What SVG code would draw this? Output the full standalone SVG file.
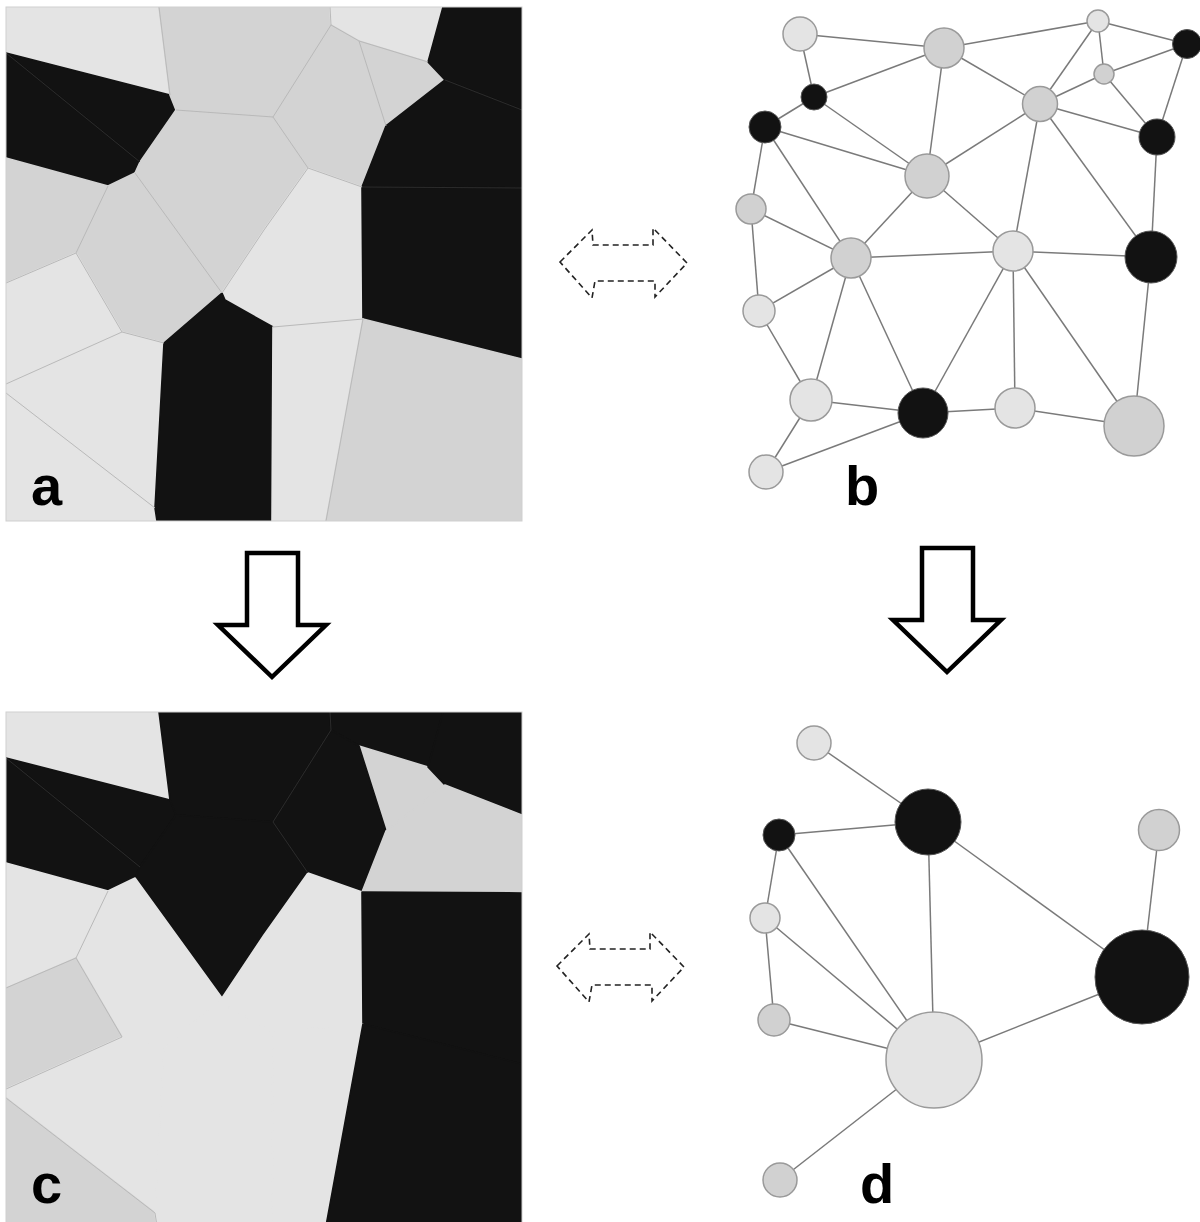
<svg xmlns="http://www.w3.org/2000/svg" xmlns:xlink="http://www.w3.org/1999/xlink" width="1200" height="1222" viewBox="0 0 1200 1222">
<style>
.L{fill:#e4e4e4;stroke:#e4e4e4;stroke-width:1.6;stroke-linejoin:round}
.M{fill:#d3d3d3;stroke:#d3d3d3;stroke-width:1.6;stroke-linejoin:round}
.B{fill:#121212;stroke:#121212;stroke-width:1.6;stroke-linejoin:round}
.gl{fill:none;stroke:#b9b9b9;stroke-width:1}
.dl{fill:none;stroke:#2c2c2c;stroke-width:1}
.frame{fill:none;stroke:#cfcfcf;stroke-width:1}
.edge{stroke:#7a7a7a;stroke-width:1.5}
.nL{fill:#e4e4e4;stroke:#9a9a9a;stroke-width:1.5}
.nM{fill:#d1d1d1;stroke:#9a9a9a;stroke-width:1.5}
.nB{fill:#121212;stroke:#555;stroke-width:1}
.lbl{font-family:"Liberation Sans",Arial,sans-serif;font-weight:bold;font-size:56px;fill:#000}
.down{fill:#fff;stroke:#000;stroke-width:4.5;stroke-linejoin:miter}
.dash{fill:none;stroke:#222;stroke-width:1.6;stroke-dasharray:6 4}
</style>
<defs>
<polygon id="c1" points="6,7 159,7 170,95 6,53"/>
<polygon id="c2" points="6,53 170,95 176,110 140,162"/>
<polygon id="c3" points="6,53 140,162 135,173 108,186 6,158"/>
<polygon id="c4" points="159,7 330,7 331,25 273,117 176,110 170,95"/>
<polygon id="c5" points="330,7 443,7 428,62 359,41 331,25"/>
<polygon id="c6" points="359,41 428,62 445,80 386,126"/>
<polygon id="c7" points="443,7 522,7 522,110 445,80 428,62"/>
<polygon id="c8" points="331,25 359,41 386,126 362,187 308,168 273,117"/>
<polygon id="c9" points="445,80 522,110 522,188 362,187 386,126"/>
<polygon id="c10" points="176,110 273,117 308,168 264,230 222,293 135,173 140,162"/>
<polygon id="c11" points="6,158 108,186 76,253 6,283"/>
<polygon id="c12" points="108,186 135,173 222,293 164,343 122,332 76,253"/>
<polygon id="c13" points="308,168 362,187 363,319 273,327 225,300 222,293 264,230"/>
<polygon id="c14" points="362,187 522,188 522,359 363,319"/>
<polygon id="c15" points="6,283 76,253 122,332 6,384"/>
<polygon id="c16" points="6,384 122,332 164,343 155,508 6,393"/>
<polygon id="c17" points="6,393 155,508 157,521 6,521"/>
<polygon id="c18" points="222,293 225,300 273,327 272,521 157,521 155,508 164,343"/>
<polygon id="c19" points="273,327 363,319 326,521 272,521"/>
<polygon id="c20" points="363,319 522,359 522,521 326,521"/>
<path id="dblarrow" d="M560,262 L592,230 L593,245 H653 L653,228 L687,263 L655,297 L655,281 H595 L592,298 Z"/>
<path id="downarrow" d="M247,553 H298 V625 H326 L272,677 L218,625 H247 Z"/>
<clipPath id="panelclip"><rect x="6" y="7" width="516" height="514"/></clipPath>
</defs>

<g id="panel-a">
<g clip-path="url(#panelclip)">
<use xlink:href="#c1" class="L"/><use xlink:href="#c2" class="B"/><use xlink:href="#c3" class="B"/>
<use xlink:href="#c4" class="M"/><use xlink:href="#c5" class="L"/><use xlink:href="#c6" class="M"/>
<use xlink:href="#c7" class="B"/><use xlink:href="#c8" class="M"/><use xlink:href="#c9" class="B"/>
<use xlink:href="#c10" class="M"/><use xlink:href="#c11" class="M"/><use xlink:href="#c12" class="M"/>
<use xlink:href="#c13" class="L"/><use xlink:href="#c14" class="B"/><use xlink:href="#c15" class="L"/>
<use xlink:href="#c16" class="L"/><use xlink:href="#c17" class="L"/><use xlink:href="#c18" class="B"/>
<use xlink:href="#c19" class="L"/><use xlink:href="#c20" class="M"/>
<path class="gl" d="M159,7 L170,95 M176,110 L273,117 M330,7 L331,25 L273,117 L308,168 L362,187 M331,25 L359,41 L428,62 M359,41 L386,126 M135,173 L222,293 M308,168 L264,230 L222,293 M108,186 L76,253 L6,283 M76,253 L122,332 L164,343 M122,332 L6,384 M6,393 L155,508 M273,327 L363,319 L326,521"/>
<path class="dl" d="M6,53 L140,162 M445,80 L522,110 M362,187 L522,188"/>
</g>
<rect class="frame" x="6" y="7" width="516" height="514"/>
<text class="lbl" x="31" y="505">a</text>
</g>

<g id="panel-c" transform="translate(0,705)">
<g clip-path="url(#panelclip)">
<use xlink:href="#c1" class="L"/><use xlink:href="#c2" class="B"/><use xlink:href="#c3" class="B"/>
<use xlink:href="#c4" class="B"/><use xlink:href="#c5" class="B"/><use xlink:href="#c6" class="M"/>
<use xlink:href="#c7" class="B"/><use xlink:href="#c8" class="B"/><use xlink:href="#c9" class="M"/>
<use xlink:href="#c10" class="B"/><use xlink:href="#c11" class="L"/><use xlink:href="#c12" class="L"/>
<use xlink:href="#c13" class="L"/><use xlink:href="#c14" class="B"/><use xlink:href="#c15" class="M"/>
<use xlink:href="#c16" class="L"/><use xlink:href="#c17" class="M"/><use xlink:href="#c18" class="L"/>
<use xlink:href="#c19" class="L"/><use xlink:href="#c20" class="B"/>
<path class="gl" d="M108,186 L76,253 L6,283 M76,253 L122,332 L6,384 M6,393 L155,508 L157,521"/>
<path class="dl" d="M6,53 L140,162 M330,7 L331,25 L273,117 L308,168"/>
</g>
<rect class="frame" x="6" y="7" width="516" height="514"/>
<text class="lbl" x="31" y="498">c</text>
</g>

<g id="arrows">
<use xlink:href="#dblarrow" class="dash"/>
<use xlink:href="#dblarrow" class="dash" transform="translate(-3,704)"/>
<use xlink:href="#downarrow" class="down"/>
<use xlink:href="#downarrow" class="down" transform="translate(675,-5)"/>
</g>

<g id="connectors-b" class="edge">
<line x1="800" y1="34" x2="944" y2="48"/>
<line x1="800" y1="34" x2="814" y2="97"/>
<line x1="944" y1="48" x2="1098" y2="21"/>
<line x1="944" y1="48" x2="814" y2="97"/>
<line x1="944" y1="48" x2="927" y2="176"/>
<line x1="944" y1="48" x2="1040" y2="104"/>
<line x1="1098" y1="21" x2="1187" y2="44"/>
<line x1="1098" y1="21" x2="1104" y2="74"/>
<line x1="1098" y1="21" x2="1040" y2="104"/>
<line x1="1104" y1="74" x2="1187" y2="44"/>
<line x1="1104" y1="74" x2="1040" y2="104"/>
<line x1="1104" y1="74" x2="1157" y2="137"/>
<line x1="1187" y1="44" x2="1157" y2="137"/>
<line x1="814" y1="97" x2="765" y2="127"/>
<line x1="814" y1="97" x2="927" y2="176"/>
<line x1="765" y1="127" x2="927" y2="176"/>
<line x1="765" y1="127" x2="751" y2="209"/>
<line x1="765" y1="127" x2="851" y2="258"/>
<line x1="1040" y1="104" x2="1157" y2="137"/>
<line x1="1040" y1="104" x2="927" y2="176"/>
<line x1="1040" y1="104" x2="1013" y2="251"/>
<line x1="1040" y1="104" x2="1151" y2="257"/>
<line x1="1157" y1="137" x2="1151" y2="257"/>
<line x1="927" y1="176" x2="851" y2="258"/>
<line x1="927" y1="176" x2="1013" y2="251"/>
<line x1="751" y1="209" x2="851" y2="258"/>
<line x1="751" y1="209" x2="759" y2="311"/>
<line x1="851" y1="258" x2="1013" y2="251"/>
<line x1="1013" y1="251" x2="1151" y2="257"/>
<line x1="851" y1="258" x2="759" y2="311"/>
<line x1="851" y1="258" x2="811" y2="400"/>
<line x1="851" y1="258" x2="923" y2="413"/>
<line x1="1013" y1="251" x2="923" y2="413"/>
<line x1="1013" y1="251" x2="1015" y2="408"/>
<line x1="1013" y1="251" x2="1134" y2="426"/>
<line x1="1151" y1="257" x2="1134" y2="426"/>
<line x1="759" y1="311" x2="811" y2="400"/>
<line x1="811" y1="400" x2="923" y2="413"/>
<line x1="811" y1="400" x2="766" y2="472"/>
<line x1="766" y1="472" x2="923" y2="413"/>
<line x1="923" y1="413" x2="1015" y2="408"/>
<line x1="1015" y1="408" x2="1134" y2="426"/>
</g>

<g id="nodes-b">
<circle id="b1" class="nL" cx="800" cy="34" r="17"/>
<circle id="b2" class="nM" cx="944" cy="48" r="20"/>
<circle id="b3" class="nL" cx="1098" cy="21" r="11"/>
<circle id="b4" class="nB" cx="1187" cy="44" r="14.5"/>
<circle id="b5" class="nM" cx="1104" cy="74" r="10"/>
<circle id="b6" class="nB" cx="814" cy="97" r="13"/>
<circle id="b7" class="nB" cx="765" cy="127" r="16"/>
<circle id="b8" class="nM" cx="1040" cy="104" r="17.5"/>
<circle id="b9" class="nB" cx="1157" cy="137" r="18"/>
<circle id="b10" class="nM" cx="927" cy="176" r="22"/>
<circle id="b11" class="nM" cx="751" cy="209" r="15"/>
<circle id="b12" class="nM" cx="851" cy="258" r="20"/>
<circle id="b13" class="nL" cx="1013" cy="251" r="20"/>
<circle id="b14" class="nB" cx="1151" cy="257" r="26"/>
<circle id="b15" class="nL" cx="759" cy="311" r="16"/>
<circle id="b16" class="nL" cx="811" cy="400" r="21"/>
<circle id="b17" class="nB" cx="923" cy="413" r="25"/>
<circle id="b18" class="nL" cx="1015" cy="408" r="20"/>
<circle id="b19" class="nM" cx="1134" cy="426" r="30"/>
<circle id="b20" class="nL" cx="766" cy="472" r="17"/>
<text class="lbl" x="845" y="505">b</text>
</g>

<g id="connectors-d" class="edge">
<line x1="814" y1="743" x2="928" y2="822"/>
<line x1="779" y1="835" x2="928" y2="822"/>
<line x1="928" y1="822" x2="1142" y2="977"/>
<line x1="928" y1="822" x2="934" y2="1060"/>
<line x1="779" y1="835" x2="765" y2="918"/>
<line x1="779" y1="835" x2="934" y2="1060"/>
<line x1="765" y1="918" x2="934" y2="1060"/>
<line x1="765" y1="918" x2="774" y2="1020"/>
<line x1="1159" y1="830" x2="1142" y2="977"/>
<line x1="774" y1="1020" x2="934" y2="1060"/>
<line x1="934" y1="1060" x2="1142" y2="977"/>
<line x1="934" y1="1060" x2="780" y2="1180"/>
</g>

<g id="nodes-d">
<circle id="d1" class="nL" cx="814" cy="743" r="17"/>
<circle id="d2" class="nB" cx="928" cy="822" r="33"/>
<circle id="d3" class="nB" cx="779" cy="835" r="16"/>
<circle id="d4" class="nM" cx="1159" cy="830" r="20.5"/>
<circle id="d5" class="nL" cx="765" cy="918" r="15"/>
<circle id="d6" class="nB" cx="1142" cy="977" r="47"/>
<circle id="d7" class="nM" cx="774" cy="1020" r="16"/>
<circle id="d8" class="nL" cx="934" cy="1060" r="48"/>
<circle id="d9" class="nM" cx="780" cy="1180" r="17"/>
<text class="lbl" x="860" y="1203">d</text>
</g>
</svg>
